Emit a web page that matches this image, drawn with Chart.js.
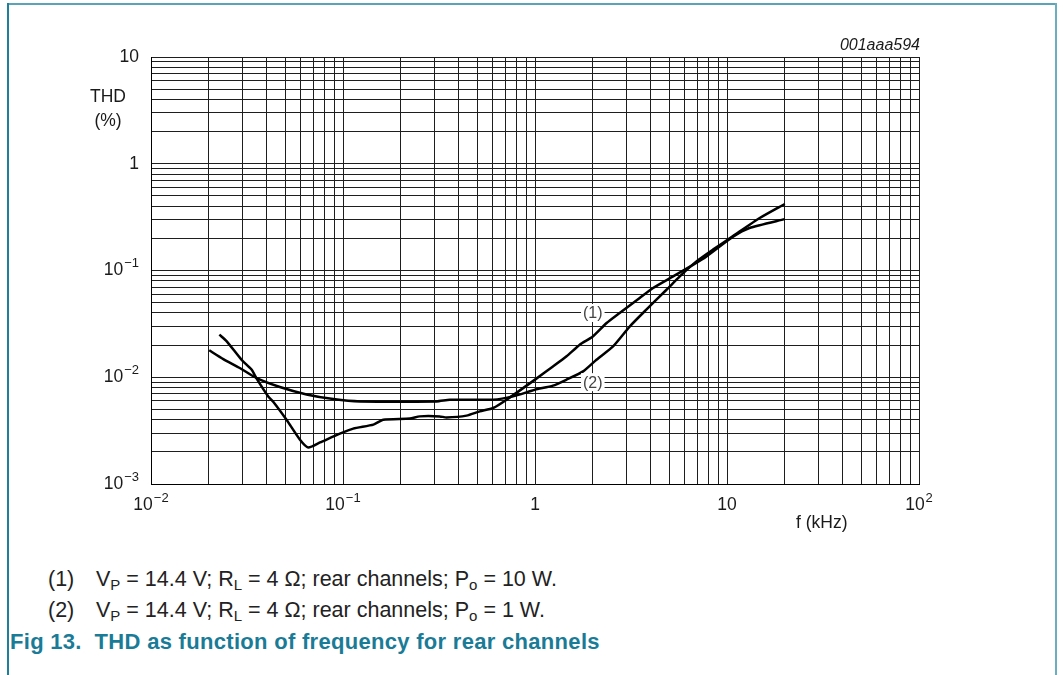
<!DOCTYPE html>
<html>
<head>
<meta charset="utf-8">
<script src="https://cdn.jsdelivr.net/npm/chart.js@4/dist/chart.umd.min.js"></script>
<style>
  html, body { margin: 0; padding: 0; background: #fff; }
  #page { position: relative; width: 1063px; height: 675px; overflow: hidden; font-family: "Liberation Sans", Arial, sans-serif; }
  #frameTop { position: absolute; left: 7px; top: 3px; width: 1050px; height: 2px; background: #5aa3b8; }
  #frameLeft { position: absolute; left: 7px; top: 3px; width: 2px; height: 672px; background: #1d7f9a; }
  #frameRight { position: absolute; left: 1055px; top: 3px; width: 2px; height: 672px; background: #6aaec2; }
  #thdChart { position: absolute; left: 0; top: 0; }
  .note { position: absolute; left: 48px; font-size: 21.5px; color: #222; white-space: nowrap; }
  .note .num { display: inline-block; width: 48px; }
  .note sub { font-size: 15px; vertical-align: -4px; line-height: 0; }
  #note1 { top: 567px; }
  #note2 { top: 598px; }
  #caption { position: absolute; left: 10px; top: 629px; font-size: 22px; font-weight: bold; letter-spacing: 0.3px; color: #1a7b97; white-space: nowrap; }
</style>
</head>
<body>
<div id="page">
  <div id="frameTop"></div>
  <div id="frameLeft"></div>
  <div id="frameRight"></div>
  <canvas id="thdChart" width="1063" height="540"></canvas>
  <div class="note" id="note1"><span class="num">(1)</span>V<sub>P</sub> = 14.4 V; R<sub>L</sub> = 4 Ω; rear channels; P<sub>o</sub> = 10 W.</div>
  <div class="note" id="note2"><span class="num">(2)</span>V<sub>P</sub> = 14.4 V; R<sub>L</sub> = 4 Ω; rear channels; P<sub>o</sub> = 1 W.</div>
  <div id="caption">Fig 13.&nbsp; THD as function of frequency for rear channels</div>
</div>
<script>
// Curve (1): Po = 10 W  (frequency in kHz, THD in %)
const freq1 = [0.0227, 0.0248, 0.0296, 0.0334, 0.0355, 0.0408, 0.0433, 0.0508, 0.0597, 0.0659,
               0.0759, 0.0963, 0.113, 0.144, 0.162, 0.223, 0.251, 0.319, 0.346, 0.44, 0.516,
               0.605, 0.711, 1.0, 1.24, 1.46, 1.71, 2.0, 2.36, 2.76, 3.51, 4.12, 5.24, 6.65,
               7.82, 10.7, 13.1, 20];
const thd1 = [0.0251, 0.0217, 0.0146, 0.0118, 0.0097, 0.0066, 0.0059, 0.0040, 0.0026, 0.0022,
              0.00245, 0.00296, 0.0033, 0.0036, 0.0040, 0.0041, 0.0043, 0.0043, 0.0042, 0.00437, 0.00479,
              0.00515, 0.00616, 0.0095, 0.0126, 0.0157, 0.0202, 0.0241, 0.0322, 0.040, 0.0553, 0.0686,
              0.0881, 0.113, 0.1355, 0.206, 0.25, 0.303];

// Curve (2): Po = 1 W
const freq2 = [0.0201, 0.0238, 0.029, 0.0355, 0.0469, 0.0646, 0.089, 0.1225, 0.307, 0.36, 0.605,
               0.769, 1.0, 1.24, 1.46, 1.78, 2.09, 2.55, 3.12, 3.8, 4.84, 5.68, 6.93, 8.45,
               10.7, 14.8, 20];
const thd2 = [0.0179, 0.0148, 0.0122, 0.0098, 0.0081, 0.0069, 0.00625, 0.00594, 0.00594, 0.00616, 0.00616,
              0.00662, 0.00764, 0.00834, 0.0095, 0.01135, 0.0146, 0.01945, 0.030, 0.043, 0.066, 0.0881,
              0.1217, 0.157, 0.209, 0.31, 0.42];

// Axis decades and their printed labels: [mantissa, exponent]
const xTicks = [0.01, 0.1, 1, 10, 100];
const xTickLabels = [['10', '−2'], ['10', '−1'], ['1', ''], ['10', ''], ['10', '2']];
const yTicks = [10, 1, 0.1, 0.01, 0.001];
const yTickLabels = [['10', ''], ['1', ''], ['10', '−1'], ['10', '−2'], ['10', '−3']];

// Curve tags placed on the chart
const curveTags = [
  { text: '(1)', x: 2, y: 0.04 },
  { text: '(2)', x: 2, y: 0.009 }
];

const FONT = '"Liberation Sans", Arial, sans-serif';
const BASE_SIZE = 17.5;
const EXP_SIZE = 13;

// 1..9 x 10^n grid lines over the axis range
function logGrid(scale) {
  const ticks = [];
  const lo = Math.round(Math.log10(scale.min));
  const hi = Math.round(Math.log10(scale.max));
  for (let e = lo; e <= hi; e++) {
    for (let m = 1; m <= 9; m++) {
      if (e === hi && m > 1) break;
      ticks.push({ value: parseFloat((m * Math.pow(10, e)).toPrecision(3)) });
    }
  }
  scale.ticks = ticks;
}

// draw "10" with a raised exponent, anchored left/center/right at x
function drawPower(ctx, base, exp, x, y, align) {
  ctx.font = BASE_SIZE + 'px ' + FONT;
  const wBase = ctx.measureText(base).width;
  ctx.font = EXP_SIZE + 'px ' + FONT;
  const wExp = exp ? ctx.measureText(exp).width + 1 : 0;
  const total = wBase + wExp;
  let left = x;
  if (align === 'center') left = x - total / 2;
  if (align === 'right') left = x - total;
  ctx.textAlign = 'left';
  ctx.textBaseline = 'middle';
  ctx.font = BASE_SIZE + 'px ' + FONT;
  ctx.fillText(base, left, y);
  if (exp) {
    ctx.font = EXP_SIZE + 'px ' + FONT;
    ctx.fillText(exp, left + wBase + 1, y - 7);
  }
}

const textPlugin = {
  id: 'textPlugin',
  afterDraw(chart) {
    const ctx = chart.ctx;
    const xs = chart.scales.x;
    const ys = chart.scales.y;
    ctx.save();
    ctx.fillStyle = '#1a1a1a';

    xTicks.forEach((v, i) => {
      drawPower(ctx, xTickLabels[i][0], xTickLabels[i][1], xs.getPixelForValue(v), 505, 'center');
    });
    yTicks.forEach((v, i) => {
      drawPower(ctx, yTickLabels[i][0], yTickLabels[i][1], 139, ys.getPixelForValue(v), 'right');
    });

    ctx.font = BASE_SIZE + 'px ' + FONT;
    ctx.textAlign = 'center';
    ctx.textBaseline = 'middle';
    ctx.fillText('THD', 108, 97);
    ctx.fillText('(%)', 108, 121);
    ctx.textAlign = 'left';
    ctx.fillText('f (kHz)', 796, 523);

    ctx.font = 'italic 16px ' + FONT;
    ctx.textAlign = 'right';
    ctx.fillText('001aaa594', 920, 46);

    // curve tags sit on a grid line with a white patch behind them
    ctx.font = '16px ' + FONT;
    ctx.textAlign = 'center';
    curveTags.forEach(t => {
      const px = xs.getPixelForValue(t.x);
      const py = ys.getPixelForValue(t.y);
      const w = ctx.measureText(t.text).width + 4;
      ctx.fillStyle = '#fff';
      ctx.fillRect(px - w / 2, py - 9, w, 18);
      ctx.fillStyle = '#444';
      ctx.fillText(t.text, px, py + 1);
    });
    ctx.restore();
  }
};

const toPoints = (xs, ys) => xs.map((x, i) => ({ x: x, y: ys[i] }));

new Chart(document.getElementById('thdChart'), {
  type: 'line',
  data: {
    datasets: [
      { label: '(1)', data: toPoints(freq1, thd1), borderColor: '#000', borderWidth: 2.5, pointRadius: 0, tension: 0.2, fill: false },
      { label: '(2)', data: toPoints(freq2, thd2), borderColor: '#000', borderWidth: 2.5, pointRadius: 0, tension: 0.2, fill: false }
    ]
  },
  options: {
    responsive: false,
    animation: false,
    layout: { padding: { left: 151, right: 144, top: 57, bottom: 56 } },
    plugins: { legend: { display: false }, tooltip: { enabled: false } },
    scales: {
      x: {
        type: 'logarithmic',
        min: 0.01,
        max: 100,
        afterBuildTicks: logGrid,
        ticks: { display: false },
        grid: { color: '#1e1e1e', lineWidth: 1, drawTicks: false },
        border: { color: '#000', width: 1 }
      },
      y: {
        type: 'logarithmic',
        min: 0.001,
        max: 10,
        afterBuildTicks: logGrid,
        ticks: { display: false },
        grid: { color: '#1e1e1e', lineWidth: 1, drawTicks: false },
        border: { color: '#000', width: 1 }
      }
    }
  },
  plugins: [textPlugin]
});
</script>
</body>
</html>
